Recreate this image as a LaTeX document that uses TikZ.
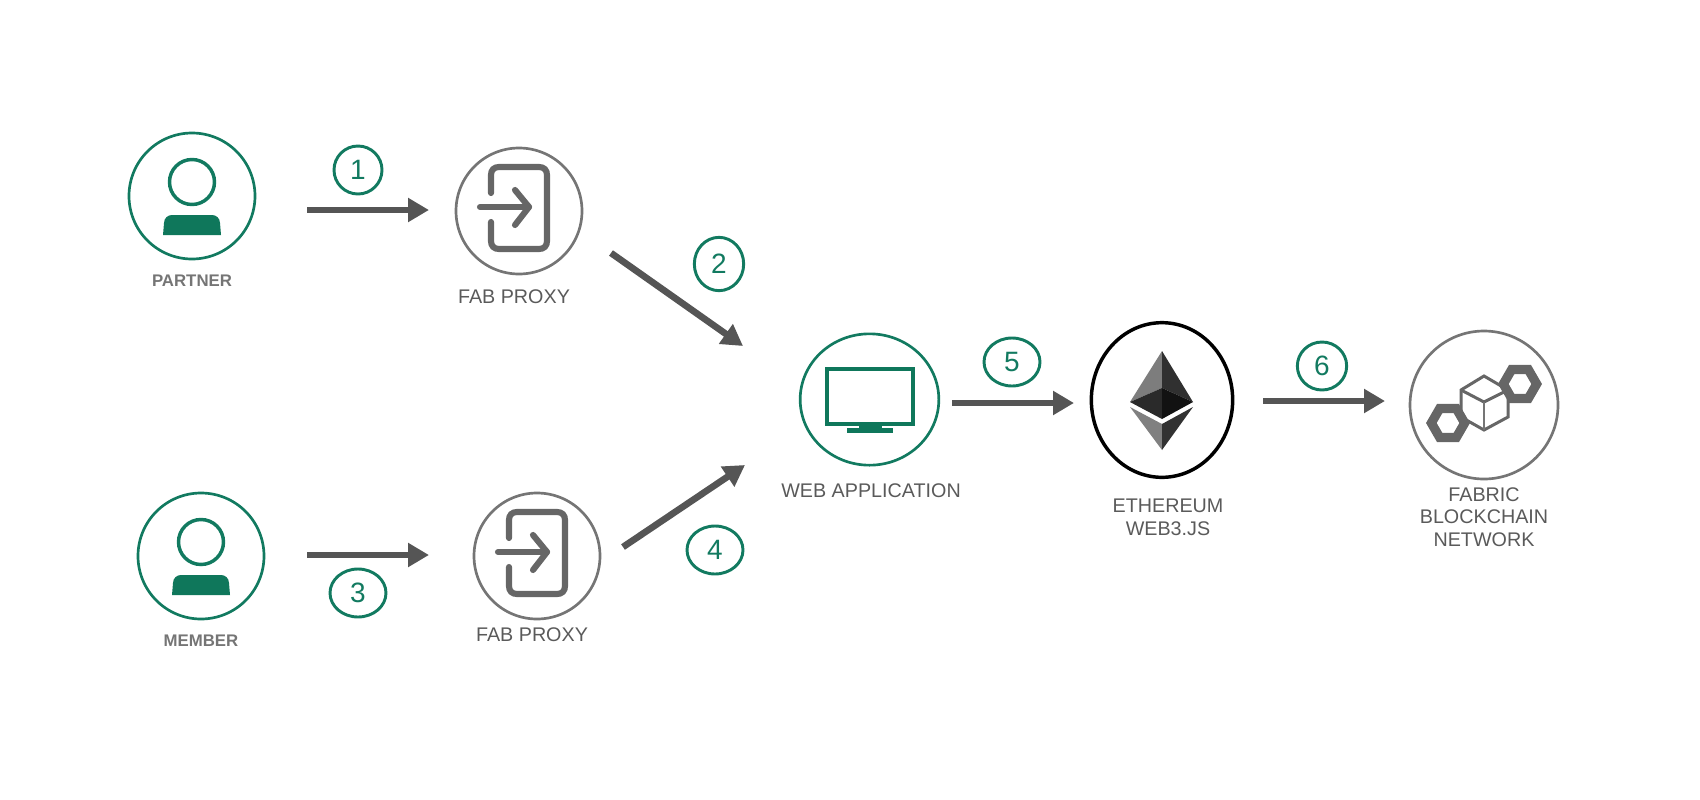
\documentclass[tikz,border=0pt]{standalone}
\usepackage{xcolor}
\usepackage{fontspec}
\setmainfont{Liberation Sans}
\usetikzlibrary{arrows.meta}
\usetikzlibrary{shapes.geometric}

\definecolor{ringgreen}{HTML}{127A60}
\definecolor{bodygreen}{HTML}{0F775B}
\definecolor{ringgray}{HTML}{757575}
\definecolor{glyphgray}{HTML}{666666}
\definecolor{flowgray}{HTML}{555555}
\definecolor{textgray}{HTML}{5A5A5A}

\tikzset{
  ringA/.style={draw=ringgreen,line width=2pt,shape=ellipse,inner sep=0pt},
  ringB/.style={draw=ringgray,line width=2pt,shape=ellipse,inner sep=0pt},
  stepmark/.style={draw=ringgreen,line width=2.2pt,shape=ellipse,inner sep=0pt,text=ringgreen,font=\fontsize{21}{21}\selectfont},
  flow/.style={draw=flowgray,line width=5pt,-{Triangle[length=15.75pt,width=17.25pt]}},
  caption/.style={text=textgray,align=center,inner sep=0pt,font=\fontsize{14.8}{17}\selectfont},
  captionB/.style={text=ringgray,align=center,inner sep=0pt,font=\fontsize{12.6}{15}\selectfont\bfseries},
  hexa/.style={draw=glyphgray,line width=6.9pt,shape=regular polygon,regular polygon sides=6,minimum size=25pt,inner sep=0pt,outer sep=0pt},
  pics/person/.style={code={
    \draw [draw=ringgreen,line width=2.6pt] (0,-14) circle [radius=22.5];
    \fill [bodygreen] (-29,39) -- (-28,27) .. controls (-28,22) and (-24,19) .. (-20,19) -- (20,19) .. controls (24,19) and (28,22) .. (28,27) -- (29,39) -- cycle;
  }},
  pics/door/.style={code={
    \draw [draw=glyphgray,line width=4.6pt,line cap=round] (-28,-18) -- (-28,-36) .. controls (-28,-41) and (-25,-44) .. (-20,-44) -- (20,-44) .. controls (25,-44) and (28,-41) .. (28,-36) -- (28,30) .. controls (28,35) and (25,38) .. (20,38) -- (-20,38) .. controls (-25,38) and (-28,35) .. (-28,30) -- (-28,11);
    \draw [draw=glyphgray,line width=4.6pt,line cap=round] (-39,-4) -- (10,-4);
    \draw [draw=glyphgray,line width=4.6pt,line cap=round,line join=round] (-4,-21) -- (10,-4) -- (-4,14);
  }}
}

\begin{document}
\begin{tikzpicture}[x=0.75pt,y=0.75pt,yscale=-1,xscale=1]
\useasboundingbox (0,0) rectangle (1700,800);

%Rings
\node [ringA,minimum width=94.5pt,minimum height=94.5pt] (partner) at (192,196) {};
\node [ringB,minimum width=94.5pt,minimum height=94.5pt] (proxyA) at (519,211) {};
\node [ringA,minimum width=94.5pt,minimum height=94.5pt] (member) at (201,556) {};
\node [ringB,minimum width=94.5pt,minimum height=94.5pt] (proxyB) at (537,556) {};
\node [ringA,minimum width=104pt,minimum height=98.5pt] (webapp) at (869.5,399.5) {};
\node [draw=black,line width=2.6pt,shape=ellipse,inner sep=0pt,minimum width=106pt,minimum height=116pt] (ethereum) at (1162,400) {};
\node [ringB,minimum width=111pt,minimum height=111pt] (fabric) at (1484,405) {};

%Person and door icons
\pic [transform shape] at (partner) {person};
\pic [transform shape] at (member) {person};
\pic [transform shape] at (proxyA) {door};
\pic [transform shape] at (proxyB) {door};

%Monitor
\draw [draw=bodygreen,line width=3pt] (827,369) rectangle (913,424);
\fill [bodygreen] (859,425) rectangle (882,429);
\fill [bodygreen] (847,428) rectangle (893,433);

%Ether mark
\fill [color={rgb, 255:red, 125; green, 125; blue, 125 }] (1162,351) -- (1130,402) -- (1162,388) -- cycle;
\fill [color={rgb, 255:red, 48; green, 48; blue, 48 }] (1162,351) -- (1193,402) -- (1162,388) -- cycle;
\fill [color={rgb, 255:red, 42; green, 42; blue, 42 }] (1130,402) -- (1162,388) -- (1162,419) -- cycle;
\fill [color={rgb, 255:red, 18; green, 18; blue, 18 }] (1193,402) -- (1162,388) -- (1162,419) -- cycle;
\fill [color={rgb, 255:red, 128; green, 128; blue, 128 }] (1130,407) -- (1162,424) -- (1162,450) -- cycle;
\fill [color={rgb, 255:red, 50; green, 50; blue, 50 }] (1193,407) -- (1162,424) -- (1162,450) -- cycle;

%Cube and hexagons
\draw [draw=glyphgray,line width=2.25pt] (1484,376) -- (1508,390) -- (1508,417) -- (1484,430) -- (1461,417) -- (1461,390) -- cycle;
\draw [draw=glyphgray,line width=2.25pt] (1461,390) -- (1484,402) -- (1508,390);
\draw [draw=ringgray,line width=1.5pt] (1484,402) -- (1484,430);
\node [hexa] (hexleft) at (1448,423) {};
\node [hexa] (hexright) at (1520,384) {};

%Flow ends
\coordinate (flowAs) at (307,210);
\coordinate (flowAe) at (429,210);
\coordinate (flowBs) at (611,253);
\coordinate (flowBe) at (743,346);
\coordinate (flowCs) at (307,555);
\coordinate (flowCe) at (429,555);
\coordinate (flowDs) at (623,547);
\coordinate (flowDe) at (745,465);
\coordinate (flowEs) at (952,403);
\coordinate (flowEe) at (1074,403);
\coordinate (flowFs) at (1263,401);
\coordinate (flowFe) at (1385,401);

%Straight Lines
\draw [flow] (flowAs) -- (flowAe);
\draw [flow] (flowBs) -- (flowBe);
\draw [flow] (flowCs) -- (flowCe);
\draw [flow] (flowDs) -- (flowDe);
\draw [flow] (flowEs) -- (flowEe);
\draw [flow] (flowFs) -- (flowFe);

%Step marks
\node [stepmark,minimum width=36pt,minimum height=36pt] (stepA) at (358,170) {1};
\node [stepmark,minimum width=37pt,minimum height=40pt] (stepB) at (719,264) {2};
\node [stepmark,minimum width=42pt,minimum height=36pt] (stepC) at (358,593) {3};
\node [stepmark,minimum width=42pt,minimum height=36pt] (stepD) at (715,550) {4};
\node [stepmark,minimum width=42pt,minimum height=36pt] (stepE) at (1012,362) {5};
\node [stepmark,minimum width=37pt,minimum height=36pt] (stepF) at (1322,366) {6};

% Text Node
\node [captionB] (partnertxt) at (192,281) {PARTNER};
\node [captionB] (membertxt) at (201,641) {MEMBER};
\node [caption] (proxyAtxt) at (514,297) {FAB PROXY};
\node [caption] (proxyBtxt) at (532,635) {FAB PROXY};
\node [caption] (webapptxt) at (871,491) {WEB APPLICATION};
\node [caption] (ethereumtxt) at (1168,517) {ETHEREUM\\WEB3.JS};
\node [caption] (fabrictxt) at (1484,517) {FABRIC\\BLOCKCHAIN\\NETWORK};

\end{tikzpicture}
\end{document}
